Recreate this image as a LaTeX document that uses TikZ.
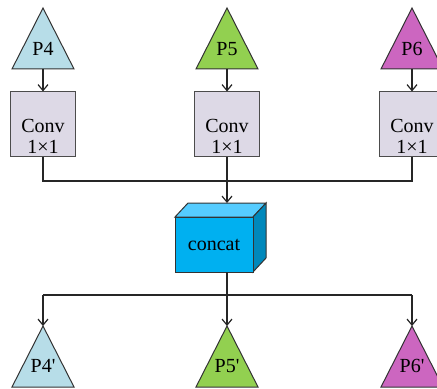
\documentclass[tikz,border=0pt]{standalone}
\usepackage{fontspec}
\setmainfont{Liberation Serif}
\usepackage{tikz}
\usetikzlibrary{arrows.meta}
\definecolor{cfour}{RGB}{183,221,232}
\definecolor{cfive}{RGB}{146,208,80}
\definecolor{csix}{RGB}{204,102,192}
\definecolor{convfill}{RGB}{221,217,230}
\definecolor{cubefront}{RGB}{0,176,240}
\definecolor{cubetop}{RGB}{85,204,255}
\definecolor{cubeside}{RGB}{0,136,187}
\tikzset{
  edge/.style={line width=0.6pt,draw=black!85},
  tri/.style={line width=0.5pt,draw=black!80},
  convbox/.style={draw=black!70,line width=0.5pt,fill=convfill,minimum width=32.5pt,minimum height=32.5pt,inner sep=0pt},
  lbl/.style={font=\fontsize{10}{10.7}\selectfont,align=center,inner sep=0pt},
  >={Straight Barb[length=3pt,width=5pt]}
}
\begin{document}
\begin{tikzpicture}[x=0.5pt,y=-0.5pt]
\useasboundingbox (0,0) rectangle (437,389);
% ---- inputs, 1x1 conv ----
\foreach \cx/\n/\col in {43/4/cfour,227/5/cfive,412/6/csix}{
  \draw[tri,fill=\col] (\cx,8) -- (\cx+31,69) -- (\cx-31,69) -- cycle;
  \coordinate (in\n) at (\cx,69);
  \node[lbl] (p\n) at (\cx,49) {P\n};
  \node[convbox] (conv\n) at (\cx,124.5) {};
  \node[lbl] (conv\n t) at (\cx,136.5) {Conv\\1×1};
  \draw[edge,->] (in\n) -- (conv\n.north);
}
% ---- concat cube ----
\draw[tri,fill=cubetop] (175,217) -- (188,203) -- (266,203) -- (253,217) -- cycle;
\draw[tri,fill=cubeside] (253,217) -- (266,203) -- (266,258) -- (253,272) -- cycle;
\draw[tri,fill=cubefront] (175,217) rectangle (253,272);
\coordinate (cubein) at (227,203);
\coordinate (cubeout) at (227,272);
\node[lbl] (concat) at (214,245) {concat};
% ---- merge ----
\coordinate (mj4) at (43,181);
\coordinate (mj6) at (412,181);
\coordinate (mj5) at (227,181);
\draw[edge] (conv4.south) -- (mj4) -- (mj6) -- (conv6.south);
\draw[edge] (conv5.south) -- (mj5);
\draw[edge,->] (mj5) -- (cubein);
% ---- outputs ----
\coordinate (sj4) at (43,295);
\coordinate (sj6) at (412,295);
\draw[edge] (sj4) -- (sj6);
\foreach \cx/\n/\col in {43/4/cfour,227/5/cfive,412/6/csix}{
  \draw[tri,fill=\col] (\cx,326) -- (\cx+31,387) -- (\cx-31,387) -- cycle;
  \coordinate (out\n) at (\cx,326);
  \node[lbl] (q\n) at (\cx,366) {P\n\textquotesingle};
}
\draw[edge,->] (sj4) -- (out4);
\draw[edge,->] (sj6) -- (out6);
\draw[edge,->] (cubeout) -- (out5);
\end{tikzpicture}
\end{document}
